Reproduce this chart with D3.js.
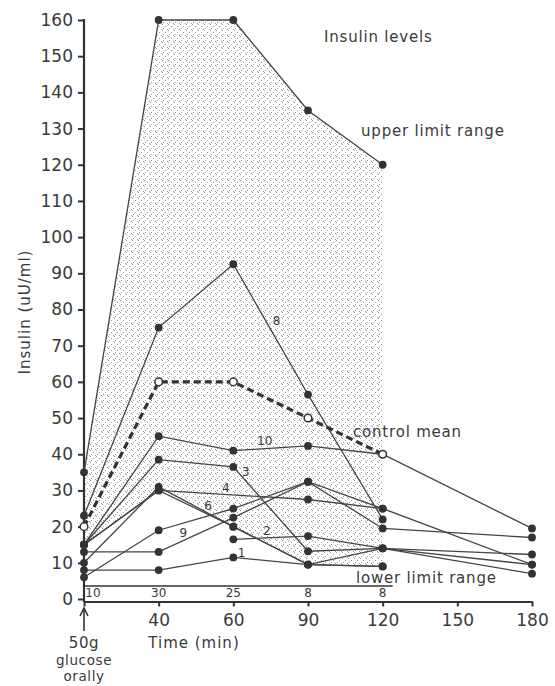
<!DOCTYPE html>
<html>
<head>
<meta charset="utf-8">
<script src="https://cdn.jsdelivr.net/npm/d3@7"></script>
<style>
  body { margin: 0; background: #fff; }
  text { font-family: "DejaVu Sans", sans-serif; fill: #3a3a3a; }
</style>
</head>
<body>
<div id="chart"></div>
<script>
// time points (min); "0" is the glucose load
const times = ["0", "40", "60", "90", "120", "150", "180"];
const rangeTimes = ["0", "40", "60", "90", "120"];
const upperLimit = [35, 160, 160, 135, 120];
const lowerLimit = [15, 30, 20, 9.5, 9];
const controlMean = [20, 60, 60, 50, 40];
const sampleCounts = [10, 30, 25, 8, 8];

// patients: values at 0, 40, 60, 90, 120, 180 (null = not measured)
const patientTimes = ["0", "40", "60", "90", "120", "180"];
const patientIds = ["8", "10", "3", "4", "6", "9", "7", "2", "1"];
const patientValues = [
  [23, 75, 92.5, 56.5, 22, null],
  [15, 45, 41, 42.3, 40, 19.5],
  [15, 38.5, 36.5, 13.2, 14, 12.3],
  [15, 30, null, 27.5, 25, 9.5],
  [10, 31, 20, 9.5, 14, 7],
  [13, 13, 22.5, 32.4, 19.5, 17],
  [6, 19, 25, 32.4, 25, null],
  [null, null, 16.5, 17.4, 14, 9.5],
  [8, 8, 11.5, 9.5, 9, null]
];
const labelledIds = ["8", "10", "3", "4", "6", "9", "2", "1"];

const yTicks = d3.range(0, 161, 10);

const width = 555, height = 686;
const svg = d3.select('#chart')
  .append('svg')
    .attr('width', width)
    .attr('height', height);

const x = d3.scalePoint().domain(times).range([84, 532]);
const y = d3.scaleLinear().domain([0, 160]).range([599, 20]);

// stipple for the normal range
const pat = svg.append('defs').append('pattern')
  .attr('id', 'stip')
  .attr('patternUnits', 'userSpaceOnUse')
  .attr('width', 6).attr('height', 6);
[[0, 0], [3, 2], [1, 4], [5, 5]].forEach(p => {
  pat.append('rect').attr('x', p[0]).attr('y', p[1])
    .attr('width', 1).attr('height', 1).attr('fill', '#9a9a9a');
});

const area = d3.area()
  .x((d, i) => x(rangeTimes[i]))
  .y0((d, i) => y(lowerLimit[i]))
  .y1(d => y(d));
svg.append('path')
  .attr('d', area(upperLimit))
  .attr('fill', 'url(#stip)');

// y axis
const yAxis = svg.append('g')
  .attr('transform', `translate(${x('0')},0)`)
  .call(d3.axisLeft(y).tickValues(yTicks).tickSize(6).tickSizeOuter(0).tickPadding(5));
yAxis.select('.domain').remove();
yAxis.selectAll('line').attr('stroke', '#333').attr('stroke-width', 2);
yAxis.selectAll('text').style('font-size', '17px').attr('fill', '#3a3a3a');
svg.append('line')
  .attr('x1', x('0')).attr('x2', x('0'))
  .attr('y1', y(160) - 1).attr('y2', y(0) + 3)
  .attr('stroke', '#333').attr('stroke-width', 2.2);

// x axis
const axisY = y(0) + 2.5;
const xAxis = svg.append('g')
  .attr('transform', `translate(0,${axisY})`)
  .call(d3.axisBottom(x).tickSize(5).tickSizeOuter(0).tickPadding(7)
    .tickFormat(d => d === "0" ? "" : d));
xAxis.select('.domain').attr('stroke', '#333').attr('stroke-width', 2);
xAxis.selectAll('line').attr('stroke', '#333').attr('stroke-width', 2);
xAxis.selectAll('text').style('font-size', '17px').attr('fill', '#3a3a3a');

// sample count strip
const stripY = y(3.6);
svg.append('line')
  .attr('x1', x('0')).attr('x2', x('120') + 10)
  .attr('y1', stripY).attr('y2', stripY)
  .attr('stroke', '#333').attr('stroke-width', 1.6);
svg.selectAll('.count')
  .data(sampleCounts)
  .enter()
  .append('text')
    .attr('class', 'count')
    .attr('x', (d, i) => i === 0 ? x('0') + 9 : x(rangeTimes[i]))
    .attr('y', stripY + 8)
    .attr('dominant-baseline', 'middle')
    .attr('text-anchor', 'middle')
    .style('font-size', '12px')
    .text(d => d);

// lines
const line = d3.line().x(d => x(d[0])).y(d => y(d[1]));
const pairs = (ts, vs) => ts.map((t, i) => [t, vs[i]]).filter(d => d[1] != null);

patientValues.forEach(vs => {
  svg.append('path')
    .attr('d', line(pairs(patientTimes, vs)))
    .attr('fill', 'none').attr('stroke', '#444').attr('stroke-width', 1.3);
});
[upperLimit, lowerLimit].forEach(vs => {
  svg.append('path')
    .attr('d', line(pairs(rangeTimes, vs)))
    .attr('fill', 'none').attr('stroke', '#444').attr('stroke-width', 1.3);
});
svg.append('path')
  .attr('d', line(pairs(rangeTimes, controlMean)))
  .attr('fill', 'none').attr('stroke', '#333')
  .attr('stroke-width', 3.2).attr('stroke-dasharray', '7,4');

// dots
const filled = [];
patientValues.forEach(vs => filled.push(...pairs(patientTimes, vs)));
filled.push(...pairs(rangeTimes, upperLimit), ...pairs(rangeTimes, lowerLimit));
svg.selectAll('.dot')
  .data(filled)
  .enter()
  .append('circle')
    .attr('class', 'dot')
    .attr('cx', d => x(d[0]))
    .attr('cy', d => y(d[1]))
    .attr('r', 3.9)
    .attr('fill', '#333');
svg.selectAll('.open')
  .data(pairs(rangeTimes, controlMean))
  .enter()
  .append('circle')
    .attr('class', 'open')
    .attr('cx', d => x(d[0]))
    .attr('cy', d => y(d[1]))
    .attr('r', 3.8)
    .attr('fill', '#fff').attr('stroke', '#333').attr('stroke-width', 1.5);

// patient number labels: [segment start index, fraction, dx, dy]
const labelSpots = {
  "8": [2, 0.44, 10.5, 0],
  "10": [2, 0.42, 0, -7],
  "3": [2, 0.1, 5, -3],
  "4": [1, 0.45, 0, -6],
  "6": [1, 0.66, 0, -7],
  "9": [1, 0.33, 0, -7],
  "2": [0, 0.45, 0, -6],
  "1": [2, 0.11, 0, -5]
};
labelledIds.forEach(id => {
  const vs = patientValues[patientIds.indexOf(id)];
  const pts = pairs(patientTimes, vs);
  const s = labelSpots[id];
  const a = pts[s[0]], b = pts[s[0] + 1];
  const px = x(a[0]) + (x(b[0]) - x(a[0])) * s[1];
  const py = y(a[1]) + (y(b[1]) - y(a[1])) * s[1];
  svg.append('text')
    .attr('x', px + s[2]).attr('y', py + s[3])
    .attr('text-anchor', 'middle')
    .attr('dominant-baseline', 'middle')
    .style('font-size', '12px')
    .text(id);
});

// annotations
const note = (t, tx, ty, size) => svg.append('text')
  .attr('x', tx).attr('y', ty)
  .attr('dominant-baseline', 'middle')
  .style('font-size', size + 'px')
  .style('letter-spacing', '0.8px')
  .text(t);
note('Insulin levels', 324, 37, 15);
note('upper limit range', 361, 131, 15);
note('control mean', 353, 432, 15);
note('lower limit range', 356, 578, 15);

svg.append('text')
  .attr('transform', 'translate(25,312) rotate(-90)')
  .attr('text-anchor', 'middle')
  .attr('dominant-baseline', 'middle')
  .style('font-size', '15px')
  .style('letter-spacing', '1px')
  .text('Insulin (uU/ml)');

svg.append('text')
  .attr('x', (x('40') + x('60')) / 2 - 2).attr('y', 643)
  .attr('text-anchor', 'middle')
  .attr('dominant-baseline', 'middle')
  .style('font-size', '15px')
  .style('letter-spacing', '1px')
  .text('Time (min)');

// glucose load marker
const ax = x('0');
svg.append('line')
  .attr('x1', ax).attr('x2', ax).attr('y1', 609).attr('y2', 631)
  .attr('stroke', '#333').attr('stroke-width', 1.6);
svg.append('path')
  .attr('d', `M${ax - 4},${616} L${ax},${608} L${ax + 4},${616}`)
  .attr('fill', 'none').attr('stroke', '#333').attr('stroke-width', 1.6);
['50g', 'glucose', 'orally'].forEach((t, i) => {
  svg.append('text')
    .attr('x', ax).attr('y', [643, 661, 677][i])
    .attr('text-anchor', 'middle')
    .attr('dominant-baseline', 'middle')
    .style('font-size', i === 0 ? '15px' : '13.5px')
    .style('letter-spacing', '0.6px')
    .text(t);
});
</script>
</body>
</html>
